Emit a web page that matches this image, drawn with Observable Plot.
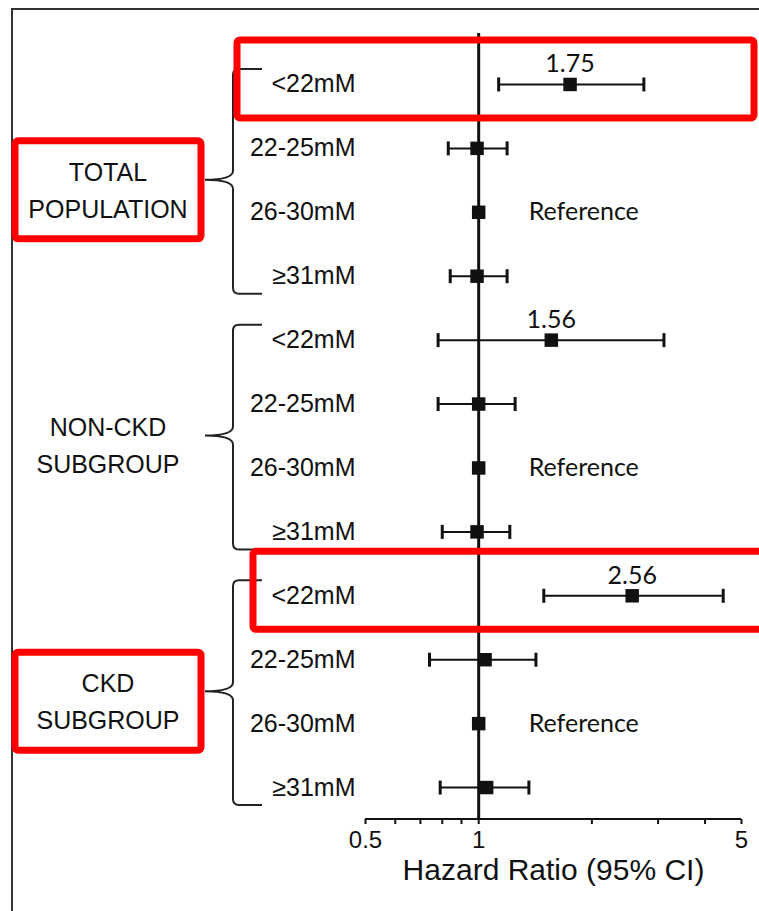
<!DOCTYPE html>
<html>
<head>
<meta charset="utf-8">
<script src="https://cdn.jsdelivr.net/npm/d3@7"></script>
<script src="https://cdn.jsdelivr.net/npm/@observablehq/plot@0.6"></script>
<style>
  html, body { margin: 0; padding: 0; background: #fff; }
  #chart svg { display: block; }
</style>
</head>
<body>
<div id="chart"></div>
<script>
// Subgroups and bicarbonate levels
const groups = ["Total", "Non-CKD", "CKD"];
const groupLines = [["TOTAL", "POPULATION"], ["NON-CKD", "SUBGROUP"], ["CKD", "SUBGROUP"]];
const levels = ["<22mM", "22-25mM", "26-30mM", "≥31mM"];
const referenceLevel = "26-30mM";
const valueLabelLevel = "<22mM";

// Hazard ratios with 95% confidence limits, one entry per level
const totalHR   = [1.75, 0.99, 1.00, 0.99];
const totalLow  = [1.13, 0.83, null, 0.84];
const totalHigh = [2.75, 1.19, null, 1.19];

const nonCkdHR   = [1.56, 1.00, 1.00, 0.99];
const nonCkdLow  = [0.78, 0.78, null, 0.80];
const nonCkdHigh = [3.11, 1.25, null, 1.21];

const ckdHR   = [2.56, 1.04, 1.00, 1.05];
const ckdLow  = [1.49, 0.74, null, 0.79];
const ckdHigh = [4.47, 1.42, null, 1.36];

// Axis
const xTicks = [0.5, 0.6, 0.7, 0.8, 0.9, 1, 2, 3, 4, 5];
const xTickLabels = [0.5, 1, 5];
const xLabel = "Hazard Ratio (95% CI)";

// Rows singled out with a red outline
const highlightedRows = ["Total|<22mM", "CKD|<22mM"];

const series = {
  "Total":   {hr: totalHR,  lo: totalLow,  hi: totalHigh},
  "Non-CKD": {hr: nonCkdHR, lo: nonCkdLow, hi: nonCkdHigh},
  "CKD":     {hr: ckdHR,    lo: ckdLow,    hi: ckdHigh}
};

const rows = groups.flatMap(g => levels.map((level, i) => ({
  id: `${g}|${level}`,
  group: g,
  level,
  hr: series[g].hr[i],
  lo: series[g].lo[i],
  hi: series[g].hi[i]
})));
const ciRows = rows.filter(d => d.lo != null && d.hi != null);
const refRows = rows.filter(d => d.level === referenceLevel);
const valueRows = rows.filter(d => d.level === valueLabelLevel);

// vertical whisker cap drawn as a dot symbol
const capSymbol = {
  draw(context, size) {
    const h = Math.sqrt(size / Math.PI);
    context.moveTo(0, -h);
    context.lineTo(0, h);
  }
};

const W = 759, H = 911;
const M = {left: 365, right: 18, top: 52, bottom: 92};
const sans = "'Liberation Sans', Arial, Helvetica, sans-serif";
const ink = "#111";
const labelFont = "Lato, 'Open Sans', sans-serif";

const chart = Plot.plot({
  width: W,
  height: H,
  marginLeft: M.left,
  marginRight: M.right,
  marginTop: M.top,
  marginBottom: M.bottom,
  style: {fontFamily: sans, fontSize: "25px", color: ink, background: "#fff", overflow: "visible"},
  x: {type: "log", domain: [0.5, 5]},
  y: {type: "point", domain: rows.map(d => d.id), padding: 0.5, round: false},
  marks: [
    Plot.axisX({
      ticks: xTicks,
      tickFormat: d => xTickLabels.includes(d) ? String(d) : "",
      tickSize: 5,
      tickPadding: 6,
      fontSize: 24,
      strokeWidth: 2,
      label: null
    }),
    Plot.axisY({
      tickSize: 0,
      tickPadding: 10,
      tickFormat: id => id.split("|")[1],
      fontSize: 25,
      label: null
    }),
    Plot.ruleX([1], {insetTop: -19, stroke: ink, strokeWidth: 3}),
    Plot.ruleY(ciRows, {y: "id", x1: "lo", x2: "hi", stroke: ink, strokeWidth: 2}),
    Plot.dot(ciRows, {x: "lo", y: "id", symbol: capSymbol, r: 7, fill: "none", stroke: ink, strokeWidth: 3}),
    Plot.dot(ciRows, {x: "hi", y: "id", symbol: capSymbol, r: 7, fill: "none", stroke: ink, strokeWidth: 3}),
    Plot.dot(rows, {x: "hr", y: "id", symbol: "square", r: 7.6, fill: ink, stroke: null}),
    Plot.text(valueRows, {
      x: "hr", y: "id", text: d => d.hr.toFixed(2), dy: -20,
      fontFamily: labelFont, fontSize: 25, fill: ink
    }),
    Plot.text(refRows, {
      x: "hr", y: "id", text: () => "Reference", textAnchor: "start", dx: 50,
      fontFamily: labelFont, fontSize: 25, fill: ink
    }),
    Plot.text([xLabel], {frameAnchor: "bottom", text: d => d, dy: 60, fontSize: 30, fill: ink})
  ]
});

document.getElementById("chart").appendChild(chart);

// Decorations drawn on top: page border, axis line, group braces and labels, highlights
const svg = d3.select(chart);
const xs = v => chart.scale("x").apply(v);
const ys = v => chart.scale("y").apply(v);
const axisY = H - M.bottom;

const deco = svg.append("g").attr("fill", "none");

// page border (top and left edges)
deco.append("path")
  .attr("d", `M12,${H} V9 H${W}`)
  .attr("stroke", "#333").attr("stroke-width", 2);

// x axis line
deco.append("line")
  .attr("x1", xs(0.5)).attr("x2", xs(5))
  .attr("y1", axisY).attr("y2", axisY)
  .attr("stroke", ink).attr("stroke-width", 2);

const braceX = M.left - 132, hookX = M.left - 103, nubX = M.left - 160;
const labelX = M.left - 257;

groups.forEach((g, gi) => {
  const yTop = ys(`${g}|${levels[0]}`) - 15;
  const yBot = ys(`${g}|${levels[levels.length - 1]}`) + 18;
  const mid = (ys(`${g}|${levels[1]}`) + ys(`${g}|${levels[2]}`)) / 2;
  deco.append("path")
    .attr("d", `M${hookX},${yTop} H${braceX + 6} Q${braceX},${yTop} ${braceX},${yTop + 6}
                V${mid - 9} Q${braceX},${mid} ${nubX},${mid}
                Q${braceX},${mid} ${braceX},${mid + 9}
                V${yBot - 6} Q${braceX},${yBot} ${braceX + 6},${yBot} H${hookX}`)
    .attr("stroke", "#222").attr("stroke-width", 2);

  const t = svg.append("text")
    .attr("text-anchor", "middle")
    .attr("font-family", sans)
    .attr("font-size", 25)
    .attr("fill", ink);
  groupLines[gi].forEach((line, li) => {
    t.append("tspan")
      .attr("x", labelX)
      .attr("y", mid - 8 + li * 37)
      .attr("dy", "0.35em")
      .text(line);
  });
});

// red highlight outlines
const red = "#ff0000";
const hl = svg.append("g").attr("fill", "none").attr("stroke", red).attr("stroke-width", 7);
const rowBoxes = [
  {id: highlightedRows[0], x0: M.left - 128, x1: W - 5},
  {id: highlightedRows[1], x0: M.left - 112, x1: W + 12}
];
rowBoxes.forEach(b => {
  const cy = ys(b.id);
  hl.append("rect")
    .attr("x", b.x0).attr("y", cy - 44)
    .attr("width", b.x1 - b.x0).attr("height", 78)
    .attr("rx", 3);
});
[groups[0], groups[2]].forEach(g => {
  const mid = (ys(`${g}|${levels[1]}`) + ys(`${g}|${levels[2]}`)) / 2;
  hl.append("rect")
    .attr("x", labelX - 93).attr("y", mid + 10 - 49)
    .attr("width", 186).attr("height", 98)
    .attr("rx", 3);
});
</script>
</body>
</html>
